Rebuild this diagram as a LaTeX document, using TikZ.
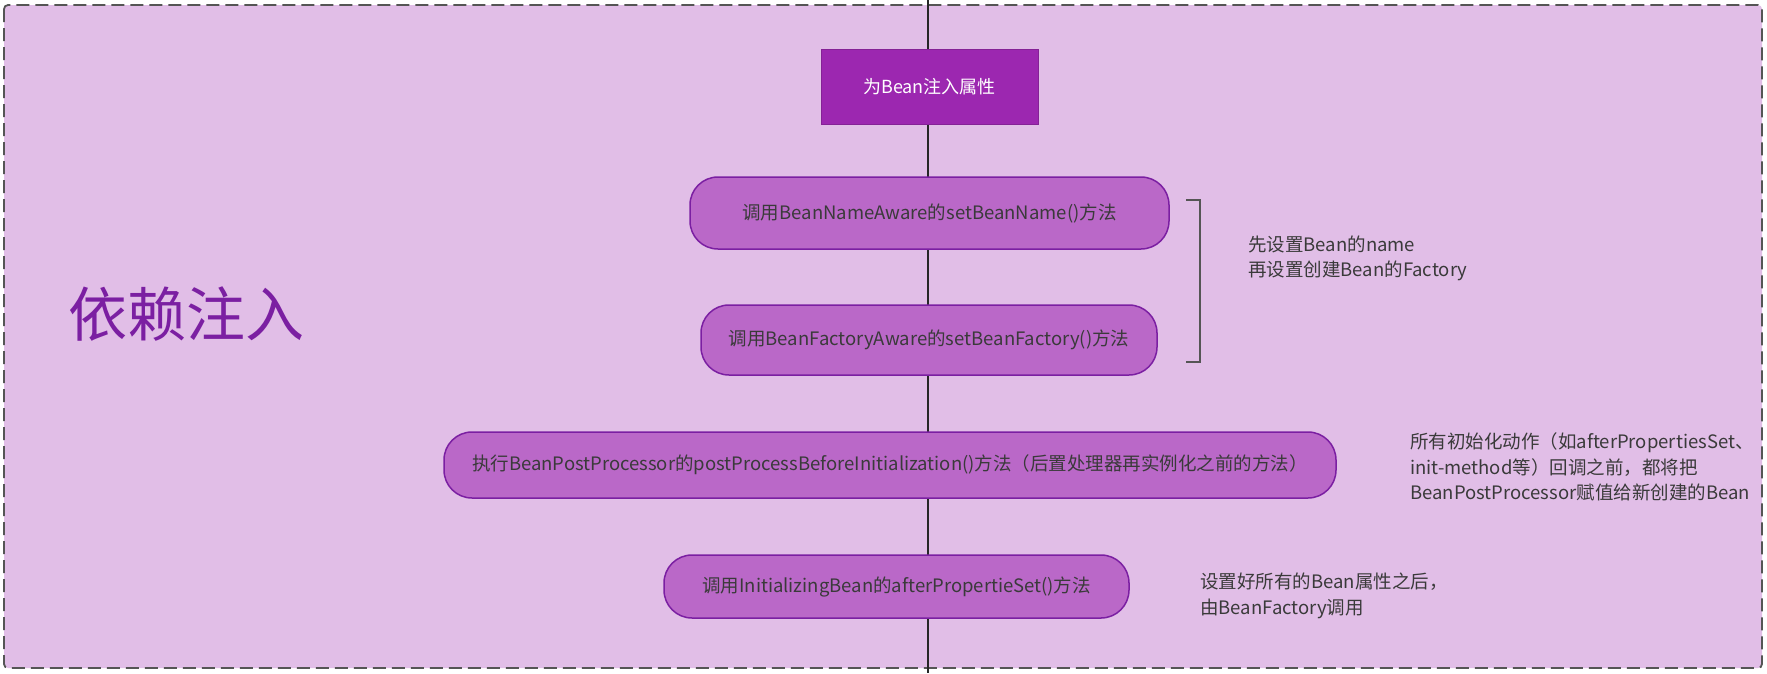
\documentclass[tikz,border=0pt]{standalone}
\usepackage{fontspec}
\setmainfont{Noto Sans CJK SC}
\definecolor{bgfill}{HTML}{E1BEE7}
\definecolor{topfill}{HTML}{9C27B0}
\definecolor{nodefill}{HTML}{BA68C8}
\definecolor{nodeborder}{HTML}{7B1FA2}
\definecolor{txt}{HTML}{3A3A3A}
\definecolor{titlecol}{HTML}{7B1FA2}
\definecolor{framecol}{HTML}{555555}
\begin{document}
\begin{tikzpicture}[x=1pt,y=-1pt,
  framebox/.style={draw=framecol, line width=1.8pt, dash pattern=on 13pt off 6pt, fill=bgfill, rounded corners=4pt},
  conn/.style={draw=black!85, line width=1.2pt},
  topbox/.style={draw=topfill!85!black, line width=1pt, fill=topfill, text=white, inner sep=0pt, font=\fontsize{18}{22}\selectfont},
  stepbox/.style={draw=nodeborder, line width=1.5pt, fill=nodefill, rounded corners=28pt, text=txt, inner sep=0pt, font=\fontsize{18.5}{22}\selectfont},
  note/.style={anchor=west, align=left, text=txt, inner sep=0pt, font=\fontsize{18.5}{25.5}\selectfont},
  bracket/.style={draw=framecol, line width=1.6pt}
]
\fill[white] (0,0) rectangle (1767,673);
\useasboundingbox (0,0) rectangle (1767,673);
\path[framebox] (4,5) rectangle (1762,668);
\coordinate (ltop) at (928,0);
\coordinate (lbot) at (928,673);
\draw[conn] (ltop) -- (lbot);

\node[topbox, minimum width=217pt, minimum height=75pt] (n0) at (929.5,86.5) {为Bean注入属性};
\node[stepbox, minimum width=479pt, minimum height=72pt] (n1) at (929.5,213) {调用BeanNameAware的setBeanName()方法};
\node[stepbox, minimum width=456pt, minimum height=70pt] (n2) at (929,340) {调用BeanFactoryAware的setBeanFactory()方法};
\node[stepbox, minimum width=892pt, minimum height=66pt] (n3) at (890,465) {执行BeanPostProcessor的postProcessBeforeInitialization()方法（后置处理器再实例化之前的方法）};
\node[stepbox, minimum width=465pt, minimum height=63pt] (n4) at (896.5,586.5) {调用InitializingBean的afterPropertieSet()方法};

\node[text=titlecol, inner sep=0pt, font=\fontsize{59}{64}\selectfont] (title) at (186,314) {依赖注入};

\coordinate (b1) at (1186,200);
\coordinate (b2) at (1200,200);
\coordinate (b3) at (1200,362);
\coordinate (b4) at (1186,362);
\draw[bracket] (b1) -- (b2) -- (b3) -- (b4);

\node[note] (t1) at (1248,258.5) {先设置Bean的name\\再设置创建Bean的Factory};
\node[note] (t2) at (1410,467) {所有初始化动作（如afterPropertiesSet、\\init-method等）回调之前，都将把\\BeanPostProcessor赋值给新创建的Bean};
\node[note] (t3) at (1200,596) {设置好所有的Bean属性之后，\\由BeanFactory调用};
\end{tikzpicture}
\end{document}
